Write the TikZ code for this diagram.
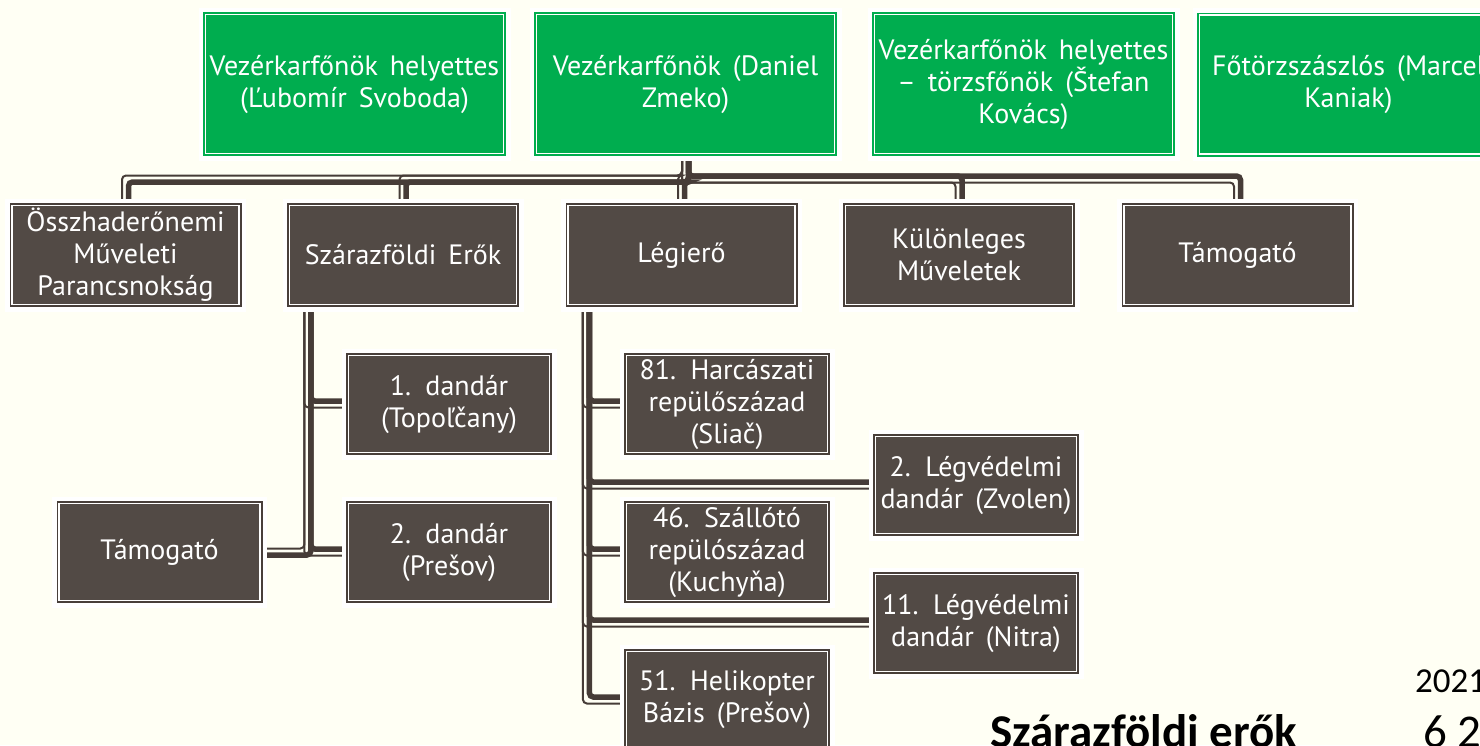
\documentclass[tikz,border=0pt]{standalone}
\usepackage{fontspec}
\setmainfont{PT Sans}[WordSpace=1.6]
\newfontfamily\calib{Carlito}
\usetikzlibrary{calc}
\pgfdeclarelayer{bg}
\pgfsetlayers{bg,main}
\definecolor{bgc}{HTML}{FFFFF4}
\definecolor{halo}{HTML}{FFFFFF}
\definecolor{grn}{HTML}{00AD4F}
\definecolor{dfill}{HTML}{524A45}
\definecolor{dline}{HTML}{483F3A}
\definecolor{conc}{HTML}{463C37}
\def\ybar{179}
\def\ta{3}
\def\tb{3.5}
\def\sx{19}
\newcommand\topc[4]{%
  \draw[thinln] ($(#1.south)+(-\tb,0)$) -- ($(#1.south |- 0,\ybar)+(-\tb,#4)$) -- ($(#2.north |- 0,\ybar)+(-\tb,#4)$) -- ($(#2.north)+(-\tb,0)$);
  \draw[thickln] ($(#1.south)+(\ta,0)$) -- ($(#1.south |- 0,\ybar)+(\ta,#3)$) -- ($(#2.north |- 0,\ybar)+(\ta,#3)$) -- ($(#2.north)+(\ta,0)$);
}
\newcommand\brc[5]{%
  \draw[thinln] ($(#1.south west)+(\sx-\tb,0)$) -- ($(#1.south west |- #2.#3)+(\sx-\tb,#5)$) -- ($(#2.#3)+(0,#5)$);
  \draw[thickln] ($(#1.south west)+(\sx+\ta,0)$) -- ($(#1.south west |- #2.#3)+(\sx+\ta,#4)$) -- ($(#2.#3)+(0,#4)$);
}
\tikzset{
  boxbase/.style={rectangle, inner sep=0pt, align=center, text=white,
    font=\fontsize{28}{32}\selectfont, line width=1.2pt, draw=white,
    preaction={draw=halo, line width=14pt}},
  gbox/.style={boxbase, fill=grn, preaction={draw=grn, line width=5pt},
    minimum width=298pt, minimum height=139pt},
  dbox/.style={boxbase, fill=dfill, preaction={draw=dline, line width=5pt},
    minimum width=227pt, minimum height=99pt},
  sbox/.style={boxbase, fill=dfill, preaction={draw=dline, line width=5pt},
    minimum width=201pt, minimum height=97pt},
  thickln/.style={draw=conc, line width=5.5pt, rounded corners=4pt},
  thinln/.style={draw=conc, line width=2pt, rounded corners=4pt},
  foot/.style={anchor=base west, inner sep=0pt, text=black},
}
\begin{document}
\begin{tikzpicture}[x=1pt, y=-1pt]
\useasboundingbox (0,0) rectangle (1480,745);
\clip (0,0) rectangle (1480,745);
% top row
\node[gbox] (b1) at (354.5,84) {Vezérkarfőnök helyettes\\(Ľubomír Svoboda)};
\node[gbox] (b2) at (685.5,84) {Vezérkarfőnök (Daniel\\Zmeko)};
\node[gbox] (b3) at (1023.5,84) {Vezérkarfőnök helyettes\\– törzsfőnök (Štefan\\Kovács)};
\node[gbox] (b4) at (1348.5,84.5) {Főtörzszászlós (Marcel\\Kaniak)};
% second row
\node[dbox] (d1) at (125.5,255) {Összhaderőnemi\\Műveleti\\Parancsnokság};
\node[dbox] (d2) at (403,255) {Szárazföldi Erők};
\node[dbox] (d3) at (681.5,255) {Légierő};
\node[dbox] (d4) at (959,255) {Különleges\\Műveletek};
\node[dbox] (d5) at (1237.5,255) {Támogató};
% land forces
\node[sbox] (s1) at (449,404) {1. dandár\\(Topoľčany)};
\node[sbox] (s2) at (449,552) {2. dandár\\(Prešov)};
\node[sbox] (s3) at (159.5,552) {Támogató};
% air force
\node[sbox] (l1) at (727,404) {81. Harcászati\\repülőszázad\\(Sliač)};
\node[sbox] (l2) at (976,485) {2. Légvédelmi\\dandár (Zvolen)};
\node[sbox] (l3) at (727,552) {46. Szállótó\\repülószázad\\(Kuchyňa)};
\node[sbox] (l4) at (976,623) {11. Légvédelmi\\dandár (Nitra)};
\node[sbox] (l5) at (727,700) {51. Helikopter\\Bázis (Prešov)};
% footer text
\node[foot, font=\calib\bfseries\fontsize{47}{52}\selectfont] (t1) at (990,747) {Szárazföldi erők};
\node[foot, font=\calib\fontsize{47}{52}\selectfont] (t2) at (1423,747) {6 2};
\node[foot, font=\calib\fontsize{35}{40}\selectfont] (t3) at (1415,692) {2021};
\begin{pgfonlayer}{bg}
\fill[bgc] (0,0) rectangle (1480,745);
\topc{b2}{d1}{\ta}{-\tb}
\topc{b2}{d2}{\ta}{-\tb}
\topc{b2}{d3}{\ta}{-\tb}
\topc{b2}{d4}{-\ta}{\tb}
\topc{b2}{d5}{-\ta}{\tb}
\brc{d2}{s1}{west}{-\ta}{\tb}
\brc{d2}{s2}{west}{-\ta}{\tb}
\brc{d2}{s3}{east}{\ta}{-\tb}
\brc{d3}{l1}{west}{-\ta}{\tb}
\brc{d3}{l2}{west}{-\ta}{\tb}
\brc{d3}{l3}{west}{-\ta}{\tb}
\brc{d3}{l4}{west}{-\ta}{\tb}
\brc{d3}{l5}{west}{-\ta}{\tb}
\end{pgfonlayer}
\end{tikzpicture}
\end{document}
